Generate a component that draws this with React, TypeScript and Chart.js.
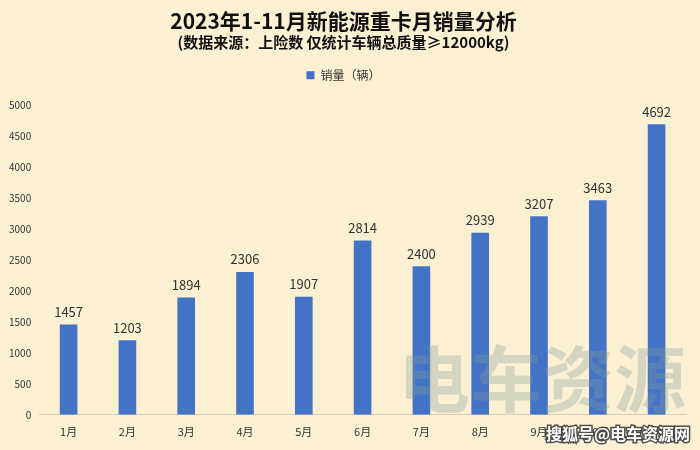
import React, { useEffect, useRef } from "react";
import { Chart, registerables } from "chart.js";

Chart.register(...registerables);

const categories = ["1月", "2月", "3月", "4月", "5月", "6月", "7月", "8月", "9月", "10月", "11月"];
const sales = [1457, 1203, 1894, 2306, 1907, 2814, 2400, 2939, 3207, 3463, 4692];
const titleText = "2023年1-11月新能源重卡月销量分析";
const subtitleText = "(数据来源：上险数 仅统计车辆总质量≥12000kg)";
const seriesName = "销量（辆）";
const watermarkBig = "电车资源";
const watermarkSmall = "搜狐号@电车资源网";

const FONT = "'Noto Sans CJK SC', 'Noto Sans', sans-serif";

export default function App() {
  const ref = useRef<HTMLCanvasElement | null>(null);
  useEffect(() => {
    if (!ref.current) return;
    const labelPlugin = {
      id: "valueLabels",
      beforeInit(chart: any) {
        const lg = chart.legend;
        if (lg) {
          const orig = lg.fit;
          lg.fit = function () {
            orig.call(this);
            this.height += 14;
          };
        }
      },
      afterDatasetsDraw(chart: any) {
        const ctx = chart.ctx;
        const meta = chart.getDatasetMeta(0);
        ctx.save();
        ctx.font = `13px ${FONT}`;
        ctx.fillStyle = "#333";
        ctx.textAlign = "center";
        ctx.textBaseline = "bottom";
        meta.data.forEach((bar: any, i: number) => {
          ctx.fillText(String(sales[i]), bar.x, bar.y - 6);
        });
        ctx.restore();
      },
      afterDraw(chart: any) {
        const ctx = chart.ctx;
        ctx.save();
        ctx.font = `bold 72px ${FONT}`;
        ctx.fillStyle = "rgba(130,160,160,0.32)";
        ctx.textAlign = "left";
        ctx.textBaseline = "alphabetic";
        ctx.fillText(watermarkBig, 398, 406);
        ctx.font = `bold 16px ${FONT}`;
        ctx.lineWidth = 3;
        ctx.strokeStyle = "rgba(60,60,60,0.9)";
        ctx.strokeText(watermarkSmall, 546, 440);
        ctx.fillStyle = "#fff";
        ctx.fillText(watermarkSmall, 546, 440);
        ctx.restore();
      },
    };
    const chart = new Chart(ref.current, {
      type: "bar",
      data: {
        labels: categories,
        datasets: [
          {
            label: seriesName,
            data: sales,
            backgroundColor: "#4472C4",
            categoryPercentage: 1,
            barPercentage: 0.3,
          },
        ],
      },
      options: {
        responsive: false,
        animation: false,
        layout: { padding: { left: 1, right: 14, top: 6, bottom: 2 } },
        plugins: {
          title: {
            display: true,
            text: titleText,
            font: { family: FONT, size: 21, weight: "bold" },
            color: "#111",
            padding: { top: 2, bottom: 0 },
          },
          subtitle: {
            display: true,
            text: subtitleText,
            font: { family: FONT, size: 15, weight: "bold" },
            color: "#111",
            padding: { top: 0, bottom: 8 },
          },
          legend: {
            display: true,
            labels: {
              boxWidth: 8,
              boxHeight: 8,
              font: { family: FONT, size: 12 },
              color: "#333",
            },
          },
          tooltip: { enabled: false },
        },
        scales: {
          x: {
            grid: { display: false, drawTicks: false },
            border: { color: "#d9d0b8" },
            ticks: { font: { family: FONT, size: 11 }, color: "#333", padding: 10 },
          },
          y: {
            min: 0,
            max: 5000,
            grid: { display: false, drawTicks: false },
            border: { display: false },
            ticks: {
              stepSize: 500,
              font: { family: FONT, size: 10 },
              color: "#333",
              padding: 8,
              callback: (v: any) => String(v),
            },
          },
        },
      },
      plugins: [labelPlugin],
    });
    return () => chart.destroy();
  }, []);
  return (
    <div style={{ position: "fixed", left: 0, top: 0, width: 700, height: 450, background: "#FCF0D2" }}>
      <canvas ref={ref} width={700} height={450} />
    </div>
  );
}
